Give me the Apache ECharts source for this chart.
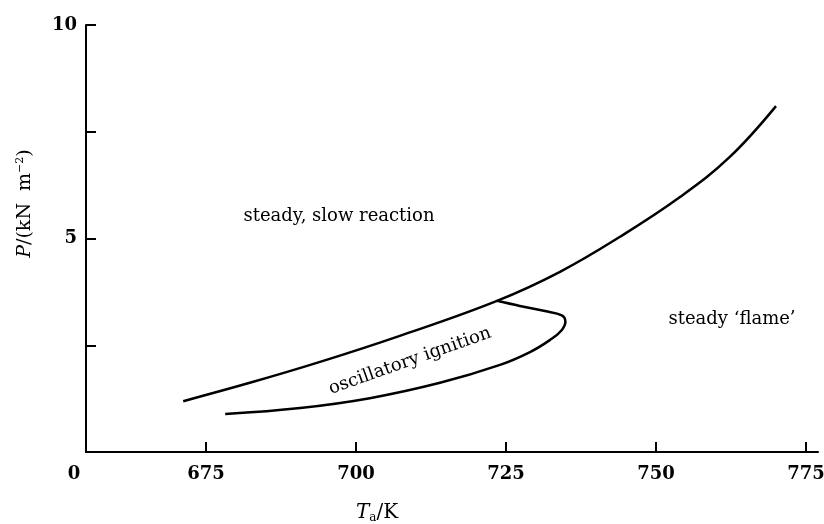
<!DOCTYPE html>
<html>
<head>
<meta charset="utf-8">
<script src="https://cdn.jsdelivr.net/npm/echarts@6/dist/echarts.min.js"></script>
<style>
  html, body { margin: 0; padding: 0; background: #fff; }
  #chart { width: 824px; height: 524px; }
</style>
</head>
<body>
<div id="chart"></div>
<script>
// T_a / K against P / (kN m^-2)
const upperT = [671.2, 682.3, 694.0, 707.3, 723.5, 734.0, 744.0, 754.0, 762.3, 770.0];
const upperP = [1.19, 1.62, 2.11, 2.72, 3.54, 4.22, 5.04, 5.97, 6.91, 8.10];

// lower boundary of the oscillatory region, running round the nose back to the junction
const lowerT = [678.2, 690.7, 702.3, 714.0, 724.0, 729.0, 732.3, 734.2, 734.9, 734.3, 731.5, 727.3, 723.5];
const lowerP = [0.89, 1.03, 1.26, 1.62, 2.04, 2.34, 2.62, 2.84, 3.05, 3.20, 3.30, 3.42, 3.54];

const xTicks = [675, 700, 725, 750, 775];
const xLabels = [655, 675, 700, 725, 750, 775];
const yLabels = [5, 10];

const serif = '"DejaVu Serif", "Liberation Serif", serif';

const chart = echarts.init(document.getElementById('chart'));

const zip = (xs, ys) => xs.map((x, i) => [x, ys[i]]);

chart.setOption({
    backgroundColor: '#fff',
    animation: false,
    grid: { left: 86, right: 6, top: 25, bottom: 72, outerBoundsMode: 'none', containLabel: false },
    xAxis: {
        type: 'value',
        min: 655,
        max: 777,
        splitLine: { show: false },
        axisLine: { lineStyle: { color: '#000', width: 2 } },
        axisTick: {
            inside: true, length: 10,
            customValues: xTicks,
            lineStyle: { color: '#000', width: 2 }
        },
        axisLabel: {
            customValues: xLabels,
            margin: 13,
            color: '#000',
            fontFamily: serif,
            fontWeight: 'bold',
            fontSize: 18,
            formatter: v => v === 655 ? '{z|0}' : String(v),
            rich: { z: { fontFamily: serif, fontWeight: 'bold', fontSize: 18, color: '#000', padding: [0, 24, 0, 0] } }
        },
        name: '{i|T}{s|a}{n|/K}',
        nameLocation: 'middle',
        nameGap: 50,
        nameTextStyle: {
            padding: [0, 150, 0, 0],
            rich: {
                i: { fontFamily: serif, fontStyle: 'italic', fontSize: 20, color: '#000' },
                s: { fontFamily: serif, fontSize: 12, color: '#000', padding: [10, 0, 0, 0] },
                n: { fontFamily: serif, fontSize: 20, color: '#000' }
            }
        }
    },
    yAxis: {
        type: 'value',
        min: 0,
        max: 10,
        interval: 2.5,
        splitLine: { show: false },
        axisLine: { lineStyle: { color: '#000', width: 2 } },
        axisTick: { inside: true, length: 10, lineStyle: { color: '#000', width: 2 } },
        axisLabel: {
            margin: 9,
            color: '#000',
            fontFamily: serif,
            fontWeight: 'bold',
            fontSize: 18,
            formatter: v => yLabels.includes(v) ? String(v) : ''
        },
        name: '{i|P}{n|/(kN  m}{s|−2}{n|)}',
        nameLocation: 'middle',
        nameGap: 50,
        nameRotate: 90,
        nameTextStyle: {
            padding: [0, 0, 0, 70],
            rich: {
                i: { fontFamily: serif, fontStyle: 'italic', fontSize: 19, color: '#000' },
                n: { fontFamily: serif, fontSize: 19, color: '#000' },
                s: { fontFamily: serif, fontSize: 11, color: '#000', padding: [0, 0, 10, 0] }
            }
        }
    },
    series: [
        {
            type: 'line',
            data: zip(upperT, upperP),
            smooth: 0.4,
            showSymbol: false,
            lineStyle: { color: '#000', width: 2.5 }
        },
        {
            type: 'line',
            data: zip(lowerT, lowerP),
            smooth: 0.4,
            showSymbol: false,
            lineStyle: { color: '#000', width: 2.5 }
        }
    ],
    graphic: [
        {
            type: 'text', x: 339, y: 216,
            style: { text: 'steady, slow reaction', font: '18px ' + serif, fill: '#000', align: 'center', verticalAlign: 'middle' }
        },
        {
            type: 'text', x: 732, y: 319,
            style: { text: 'steady ‘flame’', font: '18px ' + serif, fill: '#000', align: 'center', verticalAlign: 'middle' }
        },
        {
            type: 'text', x: 410, y: 361, rotation: 0.34,
            style: { text: 'oscillatory ignition', font: '18px ' + serif, fill: '#000', align: 'center', verticalAlign: 'middle' }
        }
    ]
});
</script>
</body>
</html>
